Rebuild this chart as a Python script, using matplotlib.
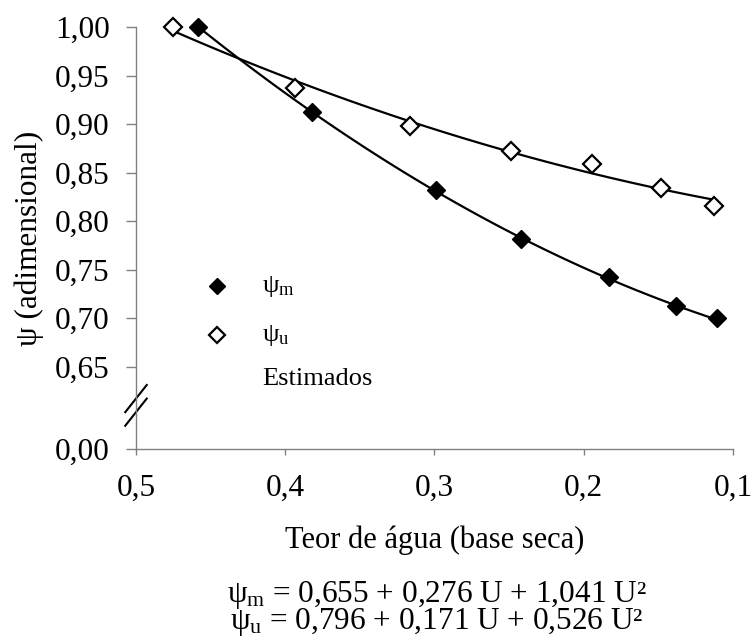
import numpy as np
import matplotlib
matplotlib.use("Agg")
import matplotlib.pyplot as plt

plt.rcParams['font.family'] = ['Liberation Serif', 'DejaVu Serif']
plt.rcParams['mathtext.fontset'] = 'custom'
plt.rcParams['mathtext.rm'] = 'Liberation Serif'
plt.rcParams['mathtext.it'] = 'Liberation Serif:italic'

# dados
u_m = [0.4585, 0.382, 0.299, 0.2423, 0.1832, 0.1385, 0.111]
psi_m = [1.000, 0.912, 0.832, 0.782, 0.7426, 0.7127, 0.700]
u_u = [0.475, 0.3935, 0.3165, 0.2484, 0.1944, 0.1484, 0.1127]
psi_u = [1.000, 0.937, 0.898, 0.8725, 0.8588, 0.8337, 0.8158]

# coeficientes das equacoes estimadas (a0, a1, a2)
coef_m = [0.655, 0.276, 1.041]
coef_u = [0.796, 0.171, 0.526]

x_ticks = [0.5, 0.4, 0.3, 0.2, 0.1]
x_labels = ['0,5', '0,4', '0,3', '0,2', '0,1']
y_ticks = [0.565, 0.65, 0.70, 0.75, 0.80, 0.85, 0.90, 0.95, 1.00]
y_labels = ['0,00', '0,65', '0,70', '0,75', '0,80', '0,85', '0,90', '0,95', '1,00']

fig = plt.figure(figsize=(7.53, 6.37), dpi=100)
ax = fig.add_axes([0.1806, 0.2951, 0.7928, 0.6625])

# curvas estimadas
um = np.linspace(min(u_m), max(u_m), 100)
uu = np.linspace(min(u_u), max(u_u), 100)
ax.plot(um, coef_m[0] + coef_m[1] * um + coef_m[2] * um**2, color='black', lw=1.6, clip_on=False)
ax.plot(uu, coef_u[0] + coef_u[1] * uu + coef_u[2] * uu**2, color='black', lw=1.6, clip_on=False)

ax.plot(u_u, psi_u, 'D', ms=9, mfc='white', mec='black', mew=1.6, ls='none', zorder=3, clip_on=False)
ax.plot(u_m, psi_m, 'D', ms=9, mfc='black', mec='black', mew=1.0, ls='none', zorder=3, clip_on=False)

ax.set_xlim(0.5, 0.1)
ax.set_ylim(0.565, 1.0)
ax.set_xticks(x_ticks)
ax.set_xticklabels(x_labels)
ax.set_yticks(y_ticks)
ax.set_yticklabels(y_labels)

for s in ['top', 'right']:
    ax.spines[s].set_visible(False)
for s in ['left', 'bottom']:
    ax.spines[s].set_color('#808080')
    ax.spines[s].set_linewidth(1.0)
ax.tick_params(axis='y', length=7, width=1, color='#808080', labelsize=22.5, pad=12)
ax.tick_params(axis='x', length=4, width=1, color='#808080', labelsize=22.5, pad=14)

# quebra do eixo y
ax.plot([-0.018, 0.018], [0.603, 0.631], transform=ax.get_yaxis_transform(), color='black', lw=1.5, clip_on=False)
ax.plot([-0.018, 0.018], [0.589, 0.617], transform=ax.get_yaxis_transform(), color='black', lw=1.5, clip_on=False)

ax.set_ylabel('ψ (adimensional)', fontsize=22.5, labelpad=8)
ax.set_xlabel('Teor de água (base seca)', fontsize=22, labelpad=16)

# legenda manual
ax.plot([0.4457], [0.733], 'D', ms=8, mfc='black', mec='black', clip_on=False)
ax.plot([0.4457], [0.6825], 'D', ms=8, mfc='white', mec='black', mew=1.6, clip_on=False)
ax.text(0.4156, 0.733, 'ψ$_{\\mathrm{m}}$', fontsize=19, va='center', ha='left')
ax.text(0.4156, 0.6825, 'ψ$_{\\mathrm{u}}$', fontsize=19, va='center', ha='left')
ax.text(0.4156, 0.637, 'Estimados', fontsize=19, va='center', ha='left')

# equacoes (um so bloco de texto)
eq_m = 'ψ$_{\\mathrm{m}}$ = 0,655 + 0,276 U + 1,041 U²'
eq_u = 'ψ$_{\\mathrm{u}}$ = 0,796 + 0,171 U + 0,526 U²'
fig.text(0.5797, 0.0126, eq_m + '\n' + eq_u, fontsize=22.5, ha='center', va='baseline',
         multialignment='center', linespacing=0.78)

fig.savefig('out.png', dpi=100)
